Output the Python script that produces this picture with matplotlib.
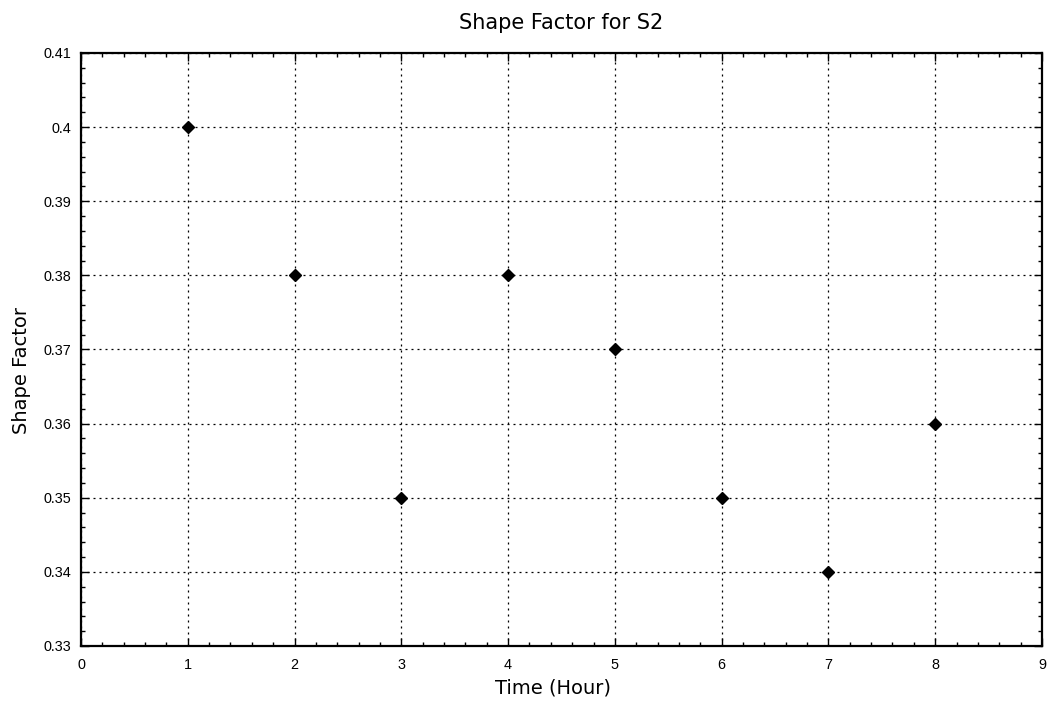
import matplotlib
matplotlib.use("Agg")
import matplotlib.pyplot as plt
from matplotlib.ticker import AutoMinorLocator

# Shape factor measurements over time
hours = [1, 2, 3, 4, 5, 6, 7, 8]
shape_factor = [0.40, 0.38, 0.35, 0.38, 0.37, 0.35, 0.34, 0.36]

x_ticks = [0, 1, 2, 3, 4, 5, 6, 7, 8, 9]
y_ticks = [0.33, 0.34, 0.35, 0.36, 0.37, 0.38, 0.39, 0.40, 0.41]
y_tick_labels = ["0.33", "0.34", "0.35", "0.36", "0.37", "0.38", "0.39", "0.4", "0.41"]

fig = plt.figure(figsize=(10.49, 7.06), dpi=100)
ax = fig.add_axes([0.0772, 0.085, 0.9161, 0.840])

ax.plot(hours, shape_factor, linestyle="none", marker="D", markersize=6.6,
        color="black", zorder=3)

ax.set_xlim(0, 9)
ax.set_ylim(0.33, 0.41)
ax.set_xticks(x_ticks)
ax.set_yticks(y_ticks)
ax.set_yticklabels(y_tick_labels)
ax.xaxis.set_minor_locator(AutoMinorLocator(5))
ax.yaxis.set_minor_locator(AutoMinorLocator(5))

tick_font = "Liberation Sans"
for lbl in ax.get_xticklabels() + ax.get_yticklabels():
    lbl.set_fontfamily(tick_font)
    lbl.set_fontsize(10.4)

ax.tick_params(which="both", direction="in", top=True, right=True, color="black")
ax.tick_params(which="major", length=6, width=1.0)
ax.tick_params(which="minor", length=3, width=1.0)
ax.tick_params(axis="y", which="major", pad=7)
ax.tick_params(axis="x", which="major", pad=8.5)

ax.grid(True, which="major", linestyle=(0, (1.6, 3.2)), color="black", linewidth=0.9)
for spine in ax.spines.values():
    spine.set_linewidth(1.6)
    spine.set_color("black")

ax.set_title("Shape Factor for S2", fontsize=15, pad=17)
ax.set_xlabel("Time (Hour)", fontsize=14, labelpad=5)
ax.set_ylabel("Shape Factor", fontsize=14, labelpad=9)
# axis titles sit slightly off-centre along their axes
ax.xaxis.label.set_x(0.491)
ax.yaxis.label.set_y(0.465)

fig.savefig("out.png", dpi=100)
